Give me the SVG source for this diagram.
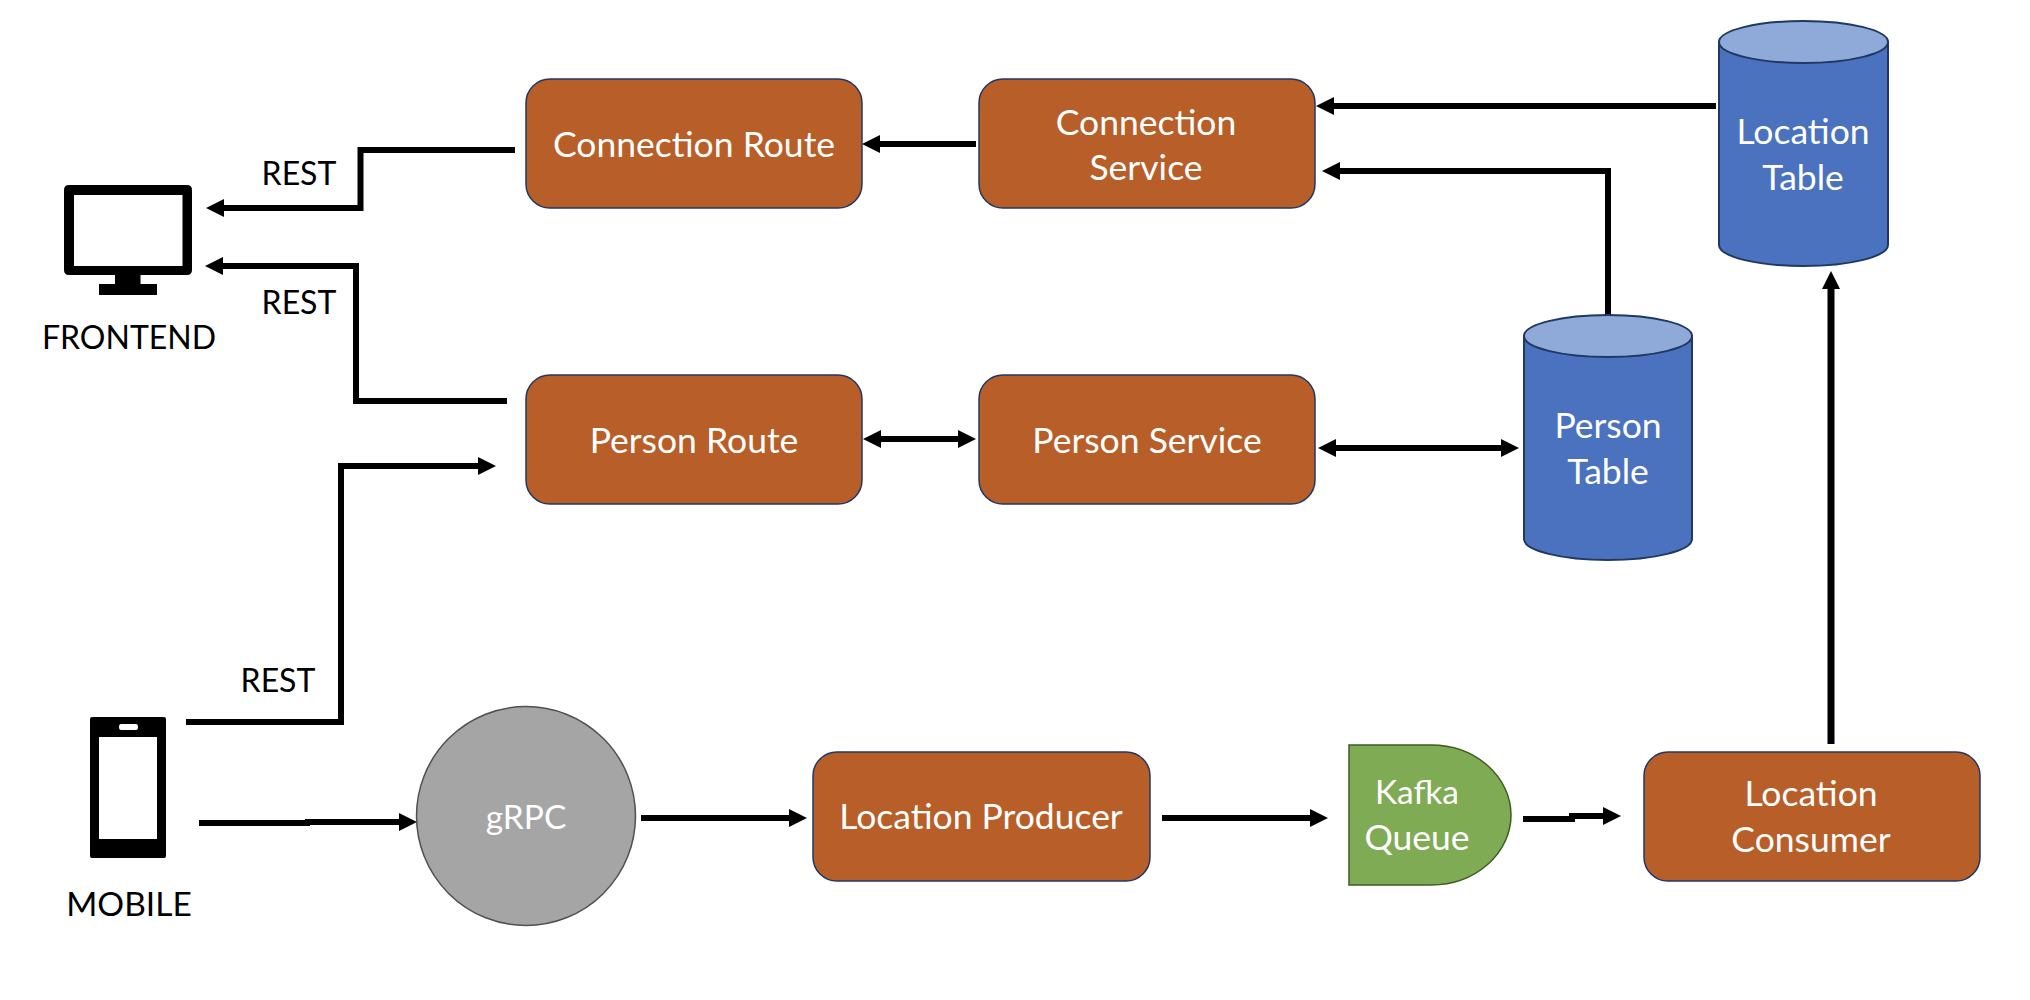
<svg xmlns="http://www.w3.org/2000/svg" width="2030" height="1000" viewBox="0 0 2030 1000">
<style>
text{font-family:"Lato","Open Sans","Liberation Sans",sans-serif;font-size:32px;text-anchor:middle}
.w{fill:#fff;font-size:35.500px}.k{fill:#000}.s{font-size:33.500px}
.box{fill:#B85E28;stroke:#1F3864;stroke-width:1.5}
.cyl{fill:#4A72BE;stroke:#1F3864;stroke-width:2}
.top{fill:#8FA9D9;stroke:#1F3864;stroke-width:2}
.c{fill:none;stroke:#000;stroke-width:6}
.a{marker-end:url(#ah)}
.b{marker-start:url(#ah);marker-end:url(#ah)}
</style>
<defs>
<marker id="ah" markerUnits="userSpaceOnUse" markerWidth="18" markerHeight="18" viewBox="0 0 18 18" refX="2" refY="9" orient="auto-start-reverse"><path d="M0 0L18 9L0 18z" fill="#000"/></marker>
</defs>
<rect width="2030" height="1000" fill="#fff"/>
<g id="connectors">
<path class="c a" d="M515 150H360.500V208H222"/>
<path class="c a" d="M507 401H356V266H221"/>
<path class="c a" d="M186 722H341V466H480"/>
<path class="c" d="M199 823H310"/>
<path class="c a" d="M305 822H401"/>
<path class="c a" d="M641 818H791"/>
<path class="c a" d="M1162 818H1312"/>
<path class="c" d="M1523 819H1575"/>
<path class="c a" d="M1569 816H1605"/>
<path class="c a" style="stroke-width:7" d="M1831 744V287"/>
<path class="c a" d="M976 144H878"/>
<path class="c a" d="M1716 106H1332"/>
<path class="c a" d="M1608 315V171H1338"/>
<path class="c b" d="M879 439H960"/>
<path class="c b" d="M1334 448H1503"/>
</g>
<g id="frontend">
<path fill-rule="evenodd" d="M69 185H187Q192 185 192 190V270Q192 275 187 275H140.500V284H157V295H99V284H115V275H69Q64 275 64 270V190Q64 185 69 185ZM74 195V266H182.500V195Z"/>
<text class="k" x="129" y="349">FRONTEND</text>
</g>
<g id="rest-labels">
<text class="k" x="299" y="185">REST</text>
<text class="k" x="299" y="314">REST</text>
<text class="k" x="278" y="692">REST</text>
</g>
<g id="mobile">
<path fill-rule="evenodd" d="M92 717H164Q166 717 166 719V856Q166 858 164 858H92Q90 858 90 856V719Q90 717 92 717ZM99 737V839H157V737ZM121 724Q119 724 119 727Q119 730 121 730H136Q138 730 138 727Q138 724 136 724Z"/>
<text class="k s" x="129" y="916">MOBILE</text>
</g>
<g id="grpc">
<circle cx="526" cy="816" r="109.500" fill="#A5A5A5" stroke="#505050" stroke-width="1.500"/>
<text class="w s" x="526" y="829">gRPC</text>
</g>
<g id="connection-route"><rect class="box" x="526" y="79" width="336" height="129" rx="24"/><text class="w" x="694" y="157">Connection Route</text></g>
<g id="connection-service"><rect class="box" x="979" y="79" width="336" height="129" rx="24"/><text class="w" x="1146" y="135">Connection</text><text class="w" x="1146" y="180">Service</text></g>
<g id="person-route"><rect class="box" x="526" y="375" width="336" height="129" rx="24"/><text class="w" x="694" y="453">Person Route</text></g>
<g id="person-service"><rect class="box" x="979" y="375" width="336" height="129" rx="24"/><text class="w" x="1147" y="453">Person Service</text></g>
<g id="location-producer"><rect class="box" x="813" y="752" width="337" height="129" rx="24"/><text class="w" x="981" y="829">Location Producer</text></g>
<g id="location-consumer"><rect class="box" x="1644" y="752" width="336" height="129" rx="24"/><text class="w" x="1811" y="806">Location</text><text class="w" x="1811" y="852">Consumer</text></g>
<g id="kafka-queue"><path d="M1349 745H1431A80 70 0 0 1 1431 885H1349Z" fill="#7FAB55" stroke="#3E5C23" stroke-width="1.500"/><text class="w s" x="1417" y="804">Kafka</text><text class="w" x="1417" y="850">Queue</text></g>
<g id="person-table"><path class="cyl" d="M1524 336V539A84 21 0 0 0 1692 539V336Z"/><ellipse class="top" cx="1608" cy="336" rx="84" ry="21"/><text class="w" x="1608" y="438">Person</text><text class="w" x="1608" y="484">Table</text></g>
<g id="location-table"><path class="cyl" d="M1719 42V245A84.500 21 0 0 0 1888 245V42Z"/><ellipse class="top" cx="1803.500" cy="42" rx="84.500" ry="21"/><text class="w" x="1803" y="144">Location</text><text class="w" x="1803" y="190">Table</text></g>
</svg>
